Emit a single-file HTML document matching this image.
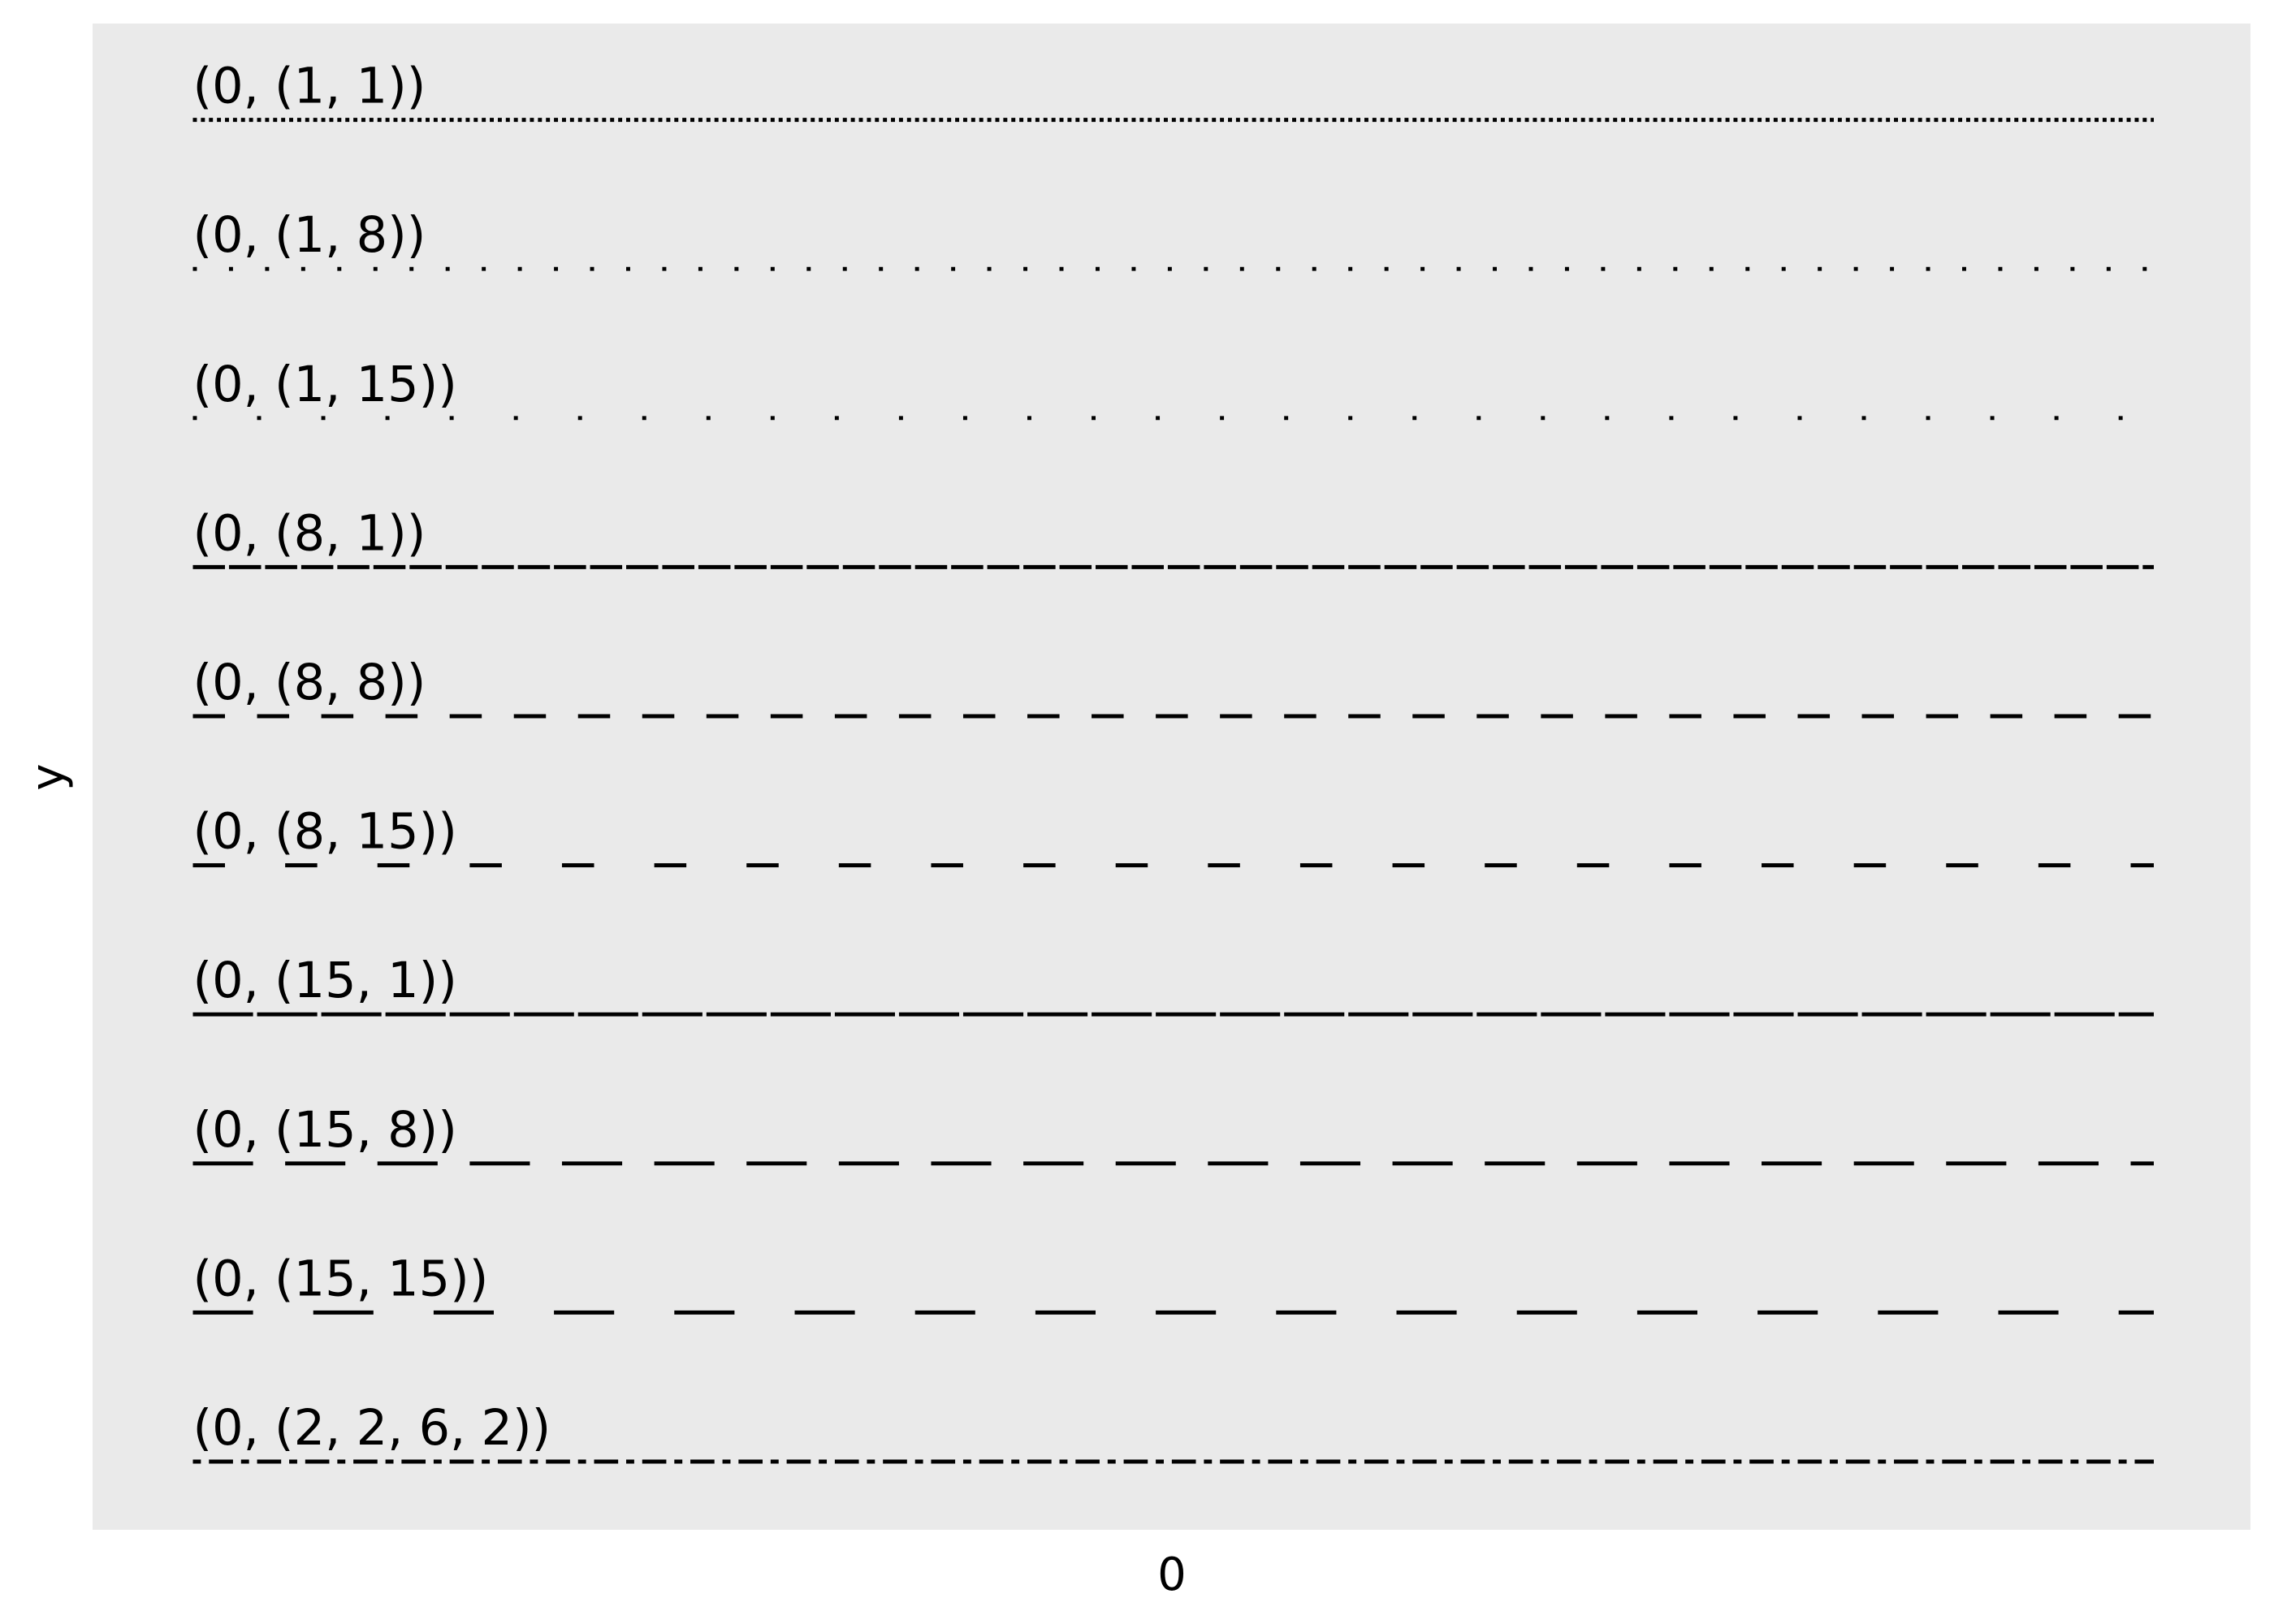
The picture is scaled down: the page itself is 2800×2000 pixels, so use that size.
<!DOCTYPE html>
<html><head><meta charset="utf-8"><style>
html,body{margin:0;padding:0;background:#fff;}
svg{display:block;font-family:"DejaVu Sans","Liberation Sans",sans-serif;}
</style></head><body>
<svg id="chart" width="2800" height="2000" viewBox="0 0 2800 2000">
<rect x="114" y="29" width="2657" height="1855" fill="#eaeaea"/>
<g id="lines"></g>
<text x="0" y="0" font-size="56" text-anchor="middle" transform="translate(78,957) rotate(-90)">y</text>
<text x="1443" y="1958" font-size="56" text-anchor="middle">0</text>
</svg>
<script>
const labels = ["(0, (1, 1))","(0, (1, 8))","(0, (1, 15))","(0, (8, 1))","(0, (8, 8))","(0, (8, 15))","(0, (15, 1))","(0, (15, 8))","(0, (15, 15))","(0, (2, 2, 6, 2))"];
const dashPatterns = [[1,1],[1,8],[1,15],[8,1],[8,8],[8,15],[15,1],[15,8],[15,15],[2,2,6,2]];
const yValues = [9,8,7,6,5,4,3,2,1,0];
const xStart = 0;
const xEnd = 1;

const lw = 4.94;
function xScale(v){ return 237.5 + (v - 0) * (2652 - 237.5); }
function yScale(v){ return 1800 - v * 183.6; }

const g = document.getElementById('lines');
const NS = 'http://www.w3.org/2000/svg';
for (let i = 0; i < labels.length; i++) {
  const y = yScale(yValues[i]);
  const line = document.createElementNS(NS, 'line');
  
  
  line.setAttribute('x1', xScale(xStart));
  line.setAttribute('x2', xScale(xEnd));
  line.setAttribute('y1', y);
  line.setAttribute('y2', y);
  line.setAttribute('stroke', '#000');
  line.setAttribute('stroke-width', lw);
  line.setAttribute('stroke-linecap', 'butt');
  line.setAttribute('stroke-dasharray', dashPatterns[i].map(d => d * lw).join(' '));
  g.appendChild(line);
  const t = document.createElementNS(NS, 'text');
  
  
  t.setAttribute('x', xScale(xStart));
  t.setAttribute('y', y - 21);
  t.setAttribute('font-size', '60.5');
  t.textContent = labels[i];
  g.appendChild(t);
}
</script>
</body></html>
